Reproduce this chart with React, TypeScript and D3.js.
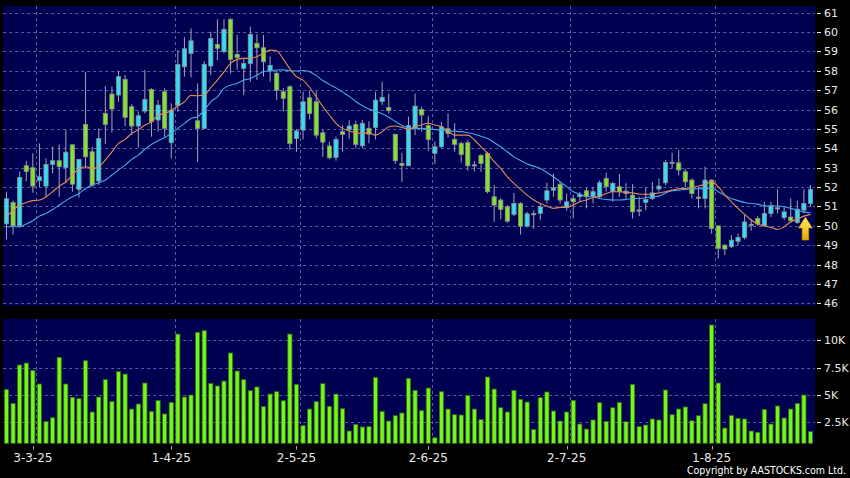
import * as d3 from "d3";
import { useEffect, useRef } from "react";

// daily candles, 24 Feb 2025 .. 21 Aug 2025 (index 0 = first candle)
const opens = [
  50.1, 51.2, 50.0, 53.1, 53.0, 52.33, 52.05, 53.17, 53.36, 53.0,
  54.18, 51.88, 55.23, 53.82, 52.31, 55.8, 56.8, 56.75, 57.56, 56.15,
  55.15, 55.92, 57.04, 55.46, 56.92, 54.29, 56.22, 58.21, 58.9, 55.42,
  55.03, 58.25, 59.36, 58.99, 60.66, 58.85, 58.13, 58.38, 59.42, 59.19,
  57.99, 57.87, 56.92, 57.18, 54.51, 54.94, 56.61, 56.4, 54.8, 54.12,
  53.53, 54.86, 54.97, 55.23, 54.13, 55.03, 55.08, 56.42, 56.11, 54.72,
  53.22, 53.1, 55.03, 56.0, 55.17, 53.74, 54.08, 55.01, 54.46, 54.25,
  54.29, 53.15, 53.63, 53.74, 51.5, 51.33, 50.98, 50.59, 51.15, 49.98,
  50.63, 50.64, 51.33, 51.84, 52.14, 50.95, 51.4, 51.5, 51.81, 51.53,
  51.5, 52.45, 51.76, 52.02, 51.67, 51.58, 50.82, 51.2, 51.41, 51.9,
  52.22, 53.28, 53.25, 52.79, 52.36, 51.48, 51.41, 52.36, 50.0, 49.0,
  48.92, 49.2, 49.4, 50.08, 50.38, 50.0, 50.64, 50.93, 50.43, 50.45,
  50.17, 50.81, 51.15,
];
const highs = [
  51.75, 51.3, 52.8, 53.35, 53.75, 54.25, 53.48, 54.1, 54.2, 54.94,
  54.2, 53.45, 57.95, 54.08, 55.03, 57.21, 57.2, 58.0, 57.78, 56.28,
  55.9, 58.04, 57.1, 56.5, 57.1, 56.32, 59.07, 59.73, 60.19, 57.35,
  58.5, 60.02, 60.66, 60.66, 60.7, 59.85, 58.6, 60.28, 59.9, 59.85,
  58.73, 58.0, 57.1, 57.25, 55.0, 56.92, 56.97, 56.95, 54.95, 54.34,
  54.6, 55.2, 55.45, 55.42, 55.46, 55.4, 56.92, 57.44, 56.83, 54.75,
  53.77, 55.63, 56.83, 56.15, 55.66, 54.35, 55.37, 55.8, 55.29, 54.35,
  54.42, 53.35, 53.7, 53.82, 52.1, 51.42, 51.07, 51.7, 51.22, 50.72,
  50.8, 51.15, 52.22, 52.7, 52.3, 51.67, 51.6, 51.75, 51.95, 52.0,
  52.35, 52.74, 52.27, 52.67, 52.2, 52.15, 51.5, 51.98, 52.27, 52.45,
  53.4, 53.77, 53.9, 52.95, 52.45, 52.0, 53.05, 52.4, 50.0, 49.05,
  49.52, 49.6, 50.55, 50.35, 50.5, 51.24, 51.24, 51.88, 50.95, 51.41,
  51.3, 51.88, 52.1,
];
const lows = [
  49.3, 49.55, 49.9, 52.3, 51.7, 52.0, 51.5, 52.7, 51.5, 52.2,
  51.76, 51.46, 52.95, 52.0, 52.1, 54.22, 54.82, 56.4, 55.15, 54.68,
  54.05, 55.8, 54.6, 54.86, 54.6, 53.48, 55.89, 57.7, 57.66, 53.3,
  55.0, 57.78, 58.56, 58.9, 57.87, 58.07, 56.75, 57.44, 57.52, 57.7,
  57.44, 56.5, 55.9, 53.9, 53.82, 54.46, 55.49, 54.51, 53.56, 53.43,
  53.36, 53.82, 54.5, 54.0, 54.0, 54.25, 54.46, 56.23, 55.8, 53.19,
  52.27, 53.1, 54.68, 54.86, 53.87, 53.19, 54.0, 54.56, 53.82, 53.27,
  52.84, 52.8, 52.79, 51.67, 50.21, 50.33, 50.16, 50.5, 49.55, 49.92,
  49.85, 50.29, 51.15, 51.5, 51.15, 50.78, 50.38, 51.24, 50.9, 51.15,
  51.4, 51.76, 51.24, 51.5, 51.4, 50.38, 50.5, 50.81, 51.33, 51.76,
  52.1, 52.95, 52.6, 52.0, 51.41, 50.9, 50.9, 49.6, 48.31, 48.49,
  48.85, 49.0, 49.3, 49.75, 50.0, 49.95, 50.45, 50.64, 50.3, 50.16,
  50.1, 50.64, 50.98,
];
const closes = [
  51.4, 50.0, 52.5, 52.8, 52.05, 52.53, 53.17, 53.36, 53.05, 53.8,
  52.15, 53.43, 53.56, 52.1, 54.5, 55.23, 56.03, 57.7, 55.6, 55.15,
  55.68, 56.52, 55.37, 56.23, 55.03, 55.97, 58.33, 59.14, 59.55, 55.03,
  58.33, 59.67, 59.16, 60.14, 58.59, 58.68, 58.38, 59.88, 59.19, 58.47,
  58.28, 57.0, 56.58, 54.25, 54.9, 56.4, 55.8, 54.68, 54.32, 53.51,
  54.46, 54.72, 55.15, 54.2, 55.29, 54.73, 56.49, 56.63, 55.94, 53.36,
  53.12, 55.17, 56.18, 55.72, 54.46, 54.08, 55.11, 54.77, 54.2, 53.68,
  53.1, 53.15, 53.22, 51.76, 51.07, 50.85, 50.24, 51.15, 49.98, 50.62,
  50.63, 50.98, 51.81, 51.96, 51.33, 51.24, 51.24, 51.62, 51.53, 51.76,
  52.22, 52.02, 52.19, 51.76, 51.79, 50.72, 50.82, 51.36, 51.7, 52.05,
  53.27, 53.28, 52.88, 52.27, 51.67, 51.48, 52.36, 49.86, 48.83, 48.8,
  49.26, 49.4, 50.2, 50.08, 50.09, 50.64, 51.03, 50.93, 50.72, 50.26,
  50.86, 51.15, 51.88,
];
// 10-day and 20-day averages as drawn
const ma10 = [
  50.47, 50.8, 51.07, 51.2, 51.3, 51.33, 51.5, 51.76, 52.05, 52.27,
  52.62, 52.96, 53.05, 52.96, 53.05, 53.4, 53.82, 54.25, 54.46, 54.77,
  54.95, 55.2, 55.37, 55.72, 55.8, 55.97, 56.18, 56.4, 56.73, 56.71,
  56.75, 57.14, 57.52, 57.95, 58.38, 58.59, 58.64, 58.64, 58.73, 58.9,
  59.07, 59.04, 58.6, 58.1, 57.7, 57.52, 57.14, 56.66, 56.15, 55.72,
  55.29, 55.03, 54.9, 54.8, 54.77, 54.8, 54.68, 54.86, 55.11, 55.15,
  55.08, 54.99, 55.11, 55.22, 55.29, 55.2, 55.11, 54.89, 54.68, 54.68,
  54.68, 54.43, 54.08, 53.74, 53.31, 52.96, 52.53, 52.19, 51.88, 51.58,
  51.33, 51.15, 51.02, 50.9, 50.95, 50.95, 51.07, 51.24, 51.33, 51.46,
  51.53, 51.67, 51.76, 51.76, 51.72, 51.7, 51.64, 51.62, 51.64, 51.7,
  51.76, 51.84, 51.91, 51.93, 51.98, 52.05, 52.15, 52.27, 52.02, 51.58,
  51.24, 50.9, 50.59, 50.3, 50.09, 50.0, 49.92, 49.81, 49.95, 50.21,
  50.35, 50.5, 50.59,
];
const ma20 = [
  49.95, 49.95, 49.95, 50.09, 50.26, 50.5, 50.64, 50.84, 51.07, 51.3,
  51.5, 51.67, 51.93, 52.1, 52.22, 52.36, 52.62, 52.88, 53.13, 53.43,
  53.65, 53.95, 54.2, 54.39, 54.56, 54.77, 55.03, 55.29, 55.54, 55.63,
  55.97, 56.4, 56.66, 57.09, 57.26, 57.35, 57.52, 57.6, 57.78, 57.95,
  58.0, 58.04, 58.05, 58.0, 57.99, 58.02, 57.95, 57.75, 57.5, 57.3,
  57.12, 56.9, 56.68, 56.42, 56.2, 56.03, 55.9, 55.78, 55.6, 55.38,
  55.18, 55.05, 55.03, 55.03, 55.0, 54.97, 54.93, 54.9, 54.88, 54.86,
  54.8, 54.73, 54.62, 54.51, 54.3, 54.08, 53.82, 53.56, 53.37, 53.19,
  53.08, 52.96, 52.75, 52.53, 52.27, 52.02, 51.76, 51.64, 51.5, 51.5,
  51.41, 51.36, 51.33, 51.33, 51.36, 51.41, 51.41, 51.46, 51.5, 51.53,
  51.7, 51.81, 51.84, 51.88, 51.9, 51.91, 51.93, 51.93, 51.76, 51.58,
  51.41, 51.3, 51.2, 51.15, 51.12, 51.03, 51.02, 51.02, 50.98, 50.9,
  50.81, 50.72, 50.67,
];
// volume in thousands
const volumes = [
  5.51, 4.23, 7.74, 7.92, 7.25, 6.0, 2.58, 2.92, 8.44, 6.0,
  4.78, 4.66, 8.13, 3.44, 4.81, 6.4, 4.41, 7.13, 6.91, 3.71,
  4.17, 6.09, 3.5, 4.5, 3.26, 4.32, 10.57, 4.81, 4.99, 10.73,
  10.88, 6.06, 5.82, 6.27, 8.84, 7.19, 6.4, 5.39, 5.73, 3.93,
  5.08, 5.3, 4.47, 10.57, 5.97, 2.19, 3.71, 4.38, 6.03, 3.96,
  5.08, 3.74, 1.7, 2.31, 2.07, 2.1, 6.61, 3.5, 2.61, 3.1,
  3.35, 6.52, 5.42, 3.56, 5.63, 1.09, 5.3, 3.71, 3.19, 3.16,
  4.96, 3.71, 2.74, 6.64, 5.54, 3.83, 3.44, 5.42, 4.6, 4.35,
  1.85, 4.75, 5.27, 3.53, 2.61, 3.44, 4.5, 2.34, 1.88, 2.71,
  4.29, 2.58, 3.83, 4.32, 2.55, 5.97, 2.1, 2.25, 2.8, 2.71,
  5.45, 3.19, 3.71, 3.9, 2.64, 3.1, 4.2, 11.4, 6.09, 1.97,
  3.13, 2.86, 2.8, 1.7, 1.58, 3.68, 2.34, 3.99, 2.89, 3.71,
  4.23, 4.99, 1.64,
];
const monthLabels = ["3-3-25", "1-4-25", "2-5-25", "2-6-25", "2-7-25", "1-8-25"];
const monthStart = [5, 26, 45, 65, 86, 108];
const priceTicks = [46, 47, 48, 49, 50, 51, 52, 53, 54, 55, 56, 57, 58, 59, 60, 61];
const volumeTicks = [2.5, 5, 7.5, 10];
const volumeTickLabels = ["2.5K", "5K", "7.5K", "10K"];
const arrowIndex = 121;
const arrowPrice = 50.45;

const UP = "#35dcef";
const DOWN = "#84e22a";
const FLAT = "#b8b8c0";

const App = () => {
  const svgRef = useRef<SVGSVGElement>(null);
  useEffect(() => {
    if (!svgRef.current) return;
    const svg = d3.select(svgRef.current);
    svg.selectAll("*").remove();
    const width = 850;
    const height = 478;
    const left = 3.2;
    const right = 815;
    const n = closes.length;
    const idx = d3.range(n);

    const x = d3
      .scaleBand<number>()
      .domain(idx)
      .range([left, left + 810.6])
      .paddingInner(0.24)
      .paddingOuter(0.12);
    const cx = (i: number) => x(i)! + x.bandwidth() / 2;
    const step = x.step();

    const y = d3.scaleLinear().domain([46, 61]).range([303.3, 12.7]);
    const yv = d3.scaleLinear().domain([0, 10]).range([449.6, 340.3]);

    const priceTop = 6;
    const priceBottom = 306;
    const volTop = 319;
    const volBottom = 443.3;

    svg.append("rect").attr("width", width).attr("height", height).attr("fill", "#000");

    const defs = svg.append("defs");
    const grad = defs
      .append("linearGradient")
      .attr("id", "arrowGrad")
      .attr("x1", 0)
      .attr("y1", 0)
      .attr("x2", 0)
      .attr("y2", 1);
    grad.append("stop").attr("offset", "0%").attr("stop-color", "#fff36b");
    grad.append("stop").attr("offset", "100%").attr("stop-color", "#e6a400");

    // panels
    svg
      .append("rect")
      .attr("x", left)
      .attr("y", priceTop)
      .attr("width", right - left)
      .attr("height", priceBottom - priceTop)
      .attr("fill", "#000050");
    svg
      .append("rect")
      .attr("x", left)
      .attr("y", volTop)
      .attr("width", right - left)
      .attr("height", volBottom - volTop)
      .attr("fill", "#000050");

    const grid = svg
      .append("g")
      .attr("stroke", "#5b5b9e")
      .attr("stroke-width", 1)
      .attr("stroke-dasharray", "3,3");
    grid
      .selectAll()
      .data(priceTicks)
      .join("line")
      .attr("x1", left)
      .attr("x2", right)
      .attr("y1", (d) => Math.round(y(d)) + 0.5)
      .attr("y2", (d) => Math.round(y(d)) + 0.5);
    grid
      .selectAll()
      .data(volumeTicks)
      .join("line")
      .attr("x1", left)
      .attr("x2", right)
      .attr("y1", (d) => Math.round(yv(d)) + 0.5)
      .attr("y2", (d) => Math.round(yv(d)) + 0.5);
    const gx = (i: number) => Math.round(cx(i) - step / 2) + 0.5;
    grid
      .selectAll()
      .data(monthStart)
      .join("line")
      .attr("x1", gx)
      .attr("x2", gx)
      .attr("y1", priceTop)
      .attr("y2", priceBottom);
    grid
      .selectAll()
      .data(monthStart)
      .join("line")
      .attr("x1", gx)
      .attr("x2", gx)
      .attr("y1", volTop)
      .attr("y2", volBottom);

    // wicks
    svg
      .append("g")
      .attr("stroke", "#a4a4b4")
      .attr("stroke-width", 1)
      .selectAll()
      .data(idx)
      .join("line")
      .attr("x1", (i) => cx(i))
      .attr("x2", (i) => cx(i))
      .attr("y1", (i) => y(highs[i]))
      .attr("y2", (i) => y(lows[i]));

    // bodies
    const bw = x.bandwidth();
    svg
      .append("g")
      .attr("stroke", "#8c8c98")
      .attr("stroke-width", 0.8)
      .selectAll()
      .data(idx)
      .join("rect")
      .attr("x", (i) => cx(i) - bw / 2 + 0.4)
      .attr("width", bw - 0.8)
      .attr("y", (i) => y(Math.max(opens[i], closes[i])))
      .attr("height", (i) => Math.max(1.2, Math.abs(y(opens[i]) - y(closes[i]))))
      .attr("fill", (i) =>
        closes[i] > opens[i] ? UP : closes[i] < opens[i] ? DOWN : FLAT
      );

    // moving averages
    const line = (vals: number[]) =>
      d3
        .line<number>()
        .x((i) => cx(i))
        .y((i) => y(vals[i]))
        .curve(d3.curveMonotoneX)(idx);
    svg
      .append("path")
      .attr("d", line(ma20))
      .attr("fill", "none")
      .attr("stroke", "#42a8ea")
      .attr("stroke-width", 1.1);
    svg
      .append("path")
      .attr("d", line(ma10))
      .attr("fill", "none")
      .attr("stroke", "#e48a52")
      .attr("stroke-width", 1.1);

    // arrow marker
    const ax = cx(arrowIndex) + 1.5;
    const ay = y(arrowPrice);
    svg
      .append("path")
      .attr(
        "d",
        `M${ax},${ay} L${ax + 7},${ay + 11} L${ax + 3.3},${ay + 11} L${ax + 3.3},${ay + 23} L${ax - 3.3},${ay + 23} L${ax - 3.3},${ay + 11} L${ax - 7},${ay + 11} Z`
      )
      .attr("fill", "url(#arrowGrad)")
      .attr("stroke", "#c98a00")
      .attr("stroke-width", 0.6);

    // volume bars
    svg
      .append("g")
      .attr("fill", "#76f51c")
      .attr("stroke", "#2f700c")
      .attr("stroke-width", 0.8)
      .selectAll()
      .data(idx)
      .join("rect")
      .attr("x", (i) => cx(i) - bw / 2 + 0.4)
      .attr("width", bw - 0.8)
      .attr("y", (i) => yv(volumes[i]))
      .attr("height", (i) => volBottom - yv(volumes[i]));

    // right axes
    const axisColor = "#e8e8e8";
    const font = "'DejaVu Sans', sans-serif";
    const ra = svg.append("g").attr("font-family", font).attr("font-size", 11).attr("fill", axisColor);
    ra.selectAll()
      .data(priceTicks)
      .join("line")
      .attr("x1", 817)
      .attr("x2", 821)
      .attr("y1", (d) => Math.round(y(d)) + 0.5)
      .attr("y2", (d) => Math.round(y(d)) + 0.5)
      .attr("stroke", axisColor);
    ra.selectAll()
      .data(priceTicks)
      .join("text")
      .attr("x", 824)
      .attr("y", (d) => y(d))
      .attr("dy", "0.36em")
      .text((d) => d);
    ra.selectAll()
      .data(volumeTicks)
      .join("line")
      .attr("x1", 817)
      .attr("x2", 821)
      .attr("y1", (d) => Math.round(yv(d)) + 0.5)
      .attr("y2", (d) => Math.round(yv(d)) + 0.5)
      .attr("stroke", axisColor);
    ra.selectAll()
      .data(volumeTicks)
      .join("text")
      .attr("x", 824)
      .attr("y", (d) => yv(d))
      .attr("dy", "0.36em")
      .text((_, k) => volumeTickLabels[k]);

    // date axis
    const da = svg.append("g").attr("font-family", font).attr("font-size", 12).attr("fill", axisColor);
    da.selectAll()
      .data(monthStart)
      .join("line")
      .attr("x1", (i) => Math.round(cx(i - 1)) + 0.5)
      .attr("x2", (i) => Math.round(cx(i - 1)) + 0.5)
      .attr("y1", 446)
      .attr("y2", 449.5)
      .attr("stroke", "#aaaaaa");
    da.selectAll()
      .data(monthStart)
      .join("text")
      .attr("x", (i) => cx(i - 1))
      .attr("y", 461.7)
      .attr("text-anchor", "middle")
      .text((_, k) => monthLabels[k]);

    svg
      .append("text")
      .attr("x", 846)
      .attr("y", 474)
      .attr("text-anchor", "end")
      .attr("font-family", font)
      .attr("font-size", 11)
      .attr("fill", "#ffffff")
      .attr("textLength", 159)
      .attr("lengthAdjust", "spacingAndGlyphs")
      .text("Copyright by AASTOCKS.com Ltd.");
  }, []);
  return (
    <svg
      ref={svgRef}
      width={850}
      height={478}
      style={{ position: "absolute", left: 0, top: 0, display: "block" }}
    ></svg>
  );
};

export default App;
